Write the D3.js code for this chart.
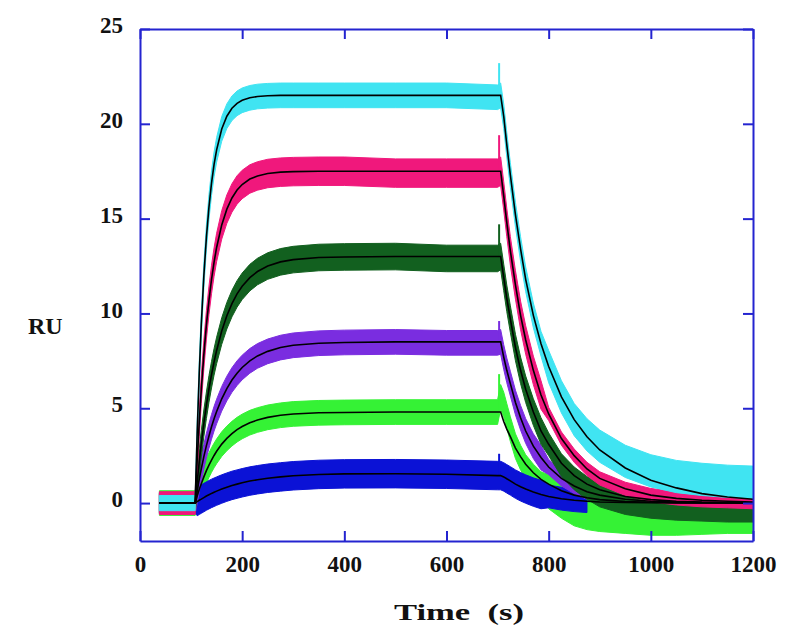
<!DOCTYPE html>
<html>
<head>
<meta charset="utf-8">
<script src="https://cdn.jsdelivr.net/npm/d3@7"></script>
<style>
  body { margin: 0; background: #fff; }
  .tick text, .title {
    font-family: "Liberation Serif", "Times New Roman", serif;
    font-weight: bold;
    font-size: 23px;
    fill: #111;
  }
  .title { font-size: 24px; }
</style>
</head>
<body>
<div class="chart"></div>
<script>
// time grid (s) shared by every trace
let times = [38, 108, 112, 116, 120, 125, 130, 135, 140, 145, 150, 160, 170, 180, 190, 200, 215, 230, 250, 275, 300, 350, 400, 500, 600, 700,
  706, 712, 718, 725, 735, 745, 755, 770, 785, 800, 825, 850, 875, 900, 950, 1000, 1050, 1100, 1150, 1200];

// fitted curves (RU)
let cyanFit = [0, 0, 3.76, 6.86, 9.42, 12.0, 14.02, 15.61, 16.87, 17.86, 18.63, 19.73, 20.40, 20.82, 21.08, 21.24, 21.37, 21.44, 21.48, 21.5, 21.5, 21.5, 21.5, 21.5, 21.5, 21.5,
  21.5, 20.4, 18.9, 17.3, 15.2, 13.4, 11.8, 9.9, 8.4, 7.2, 5.6, 4.4, 3.5, 2.8, 1.85, 1.2, 0.8, 0.5, 0.32, 0.2];
let pinkFit = [0, 0, 2.29, 4.27, 6.0, 7.84, 9.40, 10.69, 11.79, 12.71, 13.48, 14.67, 15.50, 16.09, 16.51, 16.80, 17.09, 17.25, 17.38, 17.45, 17.48, 17.5, 17.5, 17.5, 17.5, 17.5,
  17.5, 16.2, 14.8, 13.3, 11.5, 9.9, 8.6, 7.0, 5.7, 4.7, 3.4, 2.5, 1.8, 1.3, 0.75, 0.42, 0.25, 0.15, 0.1, 0.05];
let dgreenFit = [0, 0, 1.14, 2.18, 3.13, 4.21, 5.16, 6.02, 6.77, 7.45, 8.05, 9.07, 9.88, 10.52, 11.03, 11.43, 11.89, 12.21, 12.50, 12.72, 12.84, 12.95, 12.98, 13.0, 13.0, 13.0,
  13.0, 11.9, 10.8, 9.7, 8.2, 7.0, 6.0, 4.8, 3.8, 3.1, 2.1, 1.45, 1.0, 0.7, 0.35, 0.18, 0.1, 0.05, 0.03, 0.02];
let purpleFit = [0, 0, 0.65, 1.26, 1.81, 2.45, 3.03, 3.54, 4.02, 4.45, 4.83, 5.50, 6.04, 6.49, 6.85, 7.15, 7.50, 7.76, 8.00, 8.20, 8.32, 8.43, 8.47, 8.5, 8.5, 8.5,
  8.5, 7.7, 7.0, 6.3, 5.3, 4.5, 3.8, 3.0, 2.4, 1.9, 1.3, 0.9, 0.6, 0.42, 0.2, 0.1, 0.05, 0.03, 0.02, 0.01];
let greenFit = [0, 0, 0.37, 0.71, 1.02, 1.38, 1.71, 2.00, 2.27, 2.51, 2.73, 3.11, 3.41, 3.66, 3.87, 4.04, 4.24, 4.38, 4.52, 4.63, 4.70, 4.76, 4.78, 4.8, 4.8, 4.8,
  4.8, 4.3, 3.9, 3.5, 2.9, 2.45, 2.05, 1.6, 1.25, 1.0, 0.65, 0.42, 0.28, 0.18, 0.08, 0.04, 0.02, 0.01, 0, 0];
let blueFit = [0, 0, 0.08, 0.15, 0.21, 0.29, 0.37, 0.44, 0.51, 0.57, 0.63, 0.74, 0.84, 0.93, 1.00, 1.07, 1.16, 1.23, 1.31, 1.38, 1.44, 1.51, 1.54, 1.55, 1.52, 1.45,
  1.45, 1.38, 1.28, 1.17, 1.0, 0.86, 0.74, 0.58, 0.45, 0.35, 0.23, 0.15, 0.1, 0.06, 0.03, 0.02, 0.01, 0, 0, 0];

// centre of the noisy measured traces (RU)
let cyanData = [0, 0, 3.76, 6.86, 9.42, 12.0, 14.02, 15.61, 16.87, 17.86, 18.63, 19.73, 20.40, 20.82, 21.08, 21.24, 21.37, 21.44, 21.48, 21.5, 21.5, 21.5, 21.5, 21.5, 21.5, 21.4,
  21.5, 20.4, 18.9, 17.3, 15.2, 13.4, 11.8, 9.9, 8.4, 7.2, 5.6, 4.4, 3.6, 3.0, 2.2, 1.7, 1.4, 1.25, 1.15, 1.1];
let pinkData = [0, 0, 2.29, 4.27, 6.0, 7.84, 9.40, 10.69, 11.79, 12.71, 13.48, 14.67, 15.50, 16.09, 16.51, 16.80, 17.09, 17.25, 17.38, 17.45, 17.48, 17.5, 17.5, 17.4, 17.4, 17.4,
  17.5, 16.2, 14.8, 13.3, 11.5, 9.9, 8.6, 7.0, 5.7, 4.7, 3.4, 2.5, 1.8, 1.3, 0.75, 0.42, 0.25, 0.15, 0.1, 0.05];
let dgreenData = [0, 0, 1.14, 2.18, 3.13, 4.21, 5.16, 6.02, 6.77, 7.45, 8.05, 9.07, 9.88, 10.52, 11.03, 11.43, 11.89, 12.21, 12.50, 12.72, 12.84, 12.95, 12.98, 13.0, 12.9, 12.9,
  13.0, 11.9, 10.8, 9.7, 8.2, 7.0, 6.0, 4.8, 3.8, 3.1, 2.0, 1.3, 0.8, 0.4, 0.0, -0.2, -0.3, -0.35, -0.4, -0.4];
let purpleData = [0, 0, 0.65, 1.26, 1.81, 2.45, 3.03, 3.54, 4.02, 4.45, 4.83, 5.50, 6.04, 6.49, 6.85, 7.15, 7.50, 7.76, 8.00, 8.20, 8.32, 8.43, 8.47, 8.5, 8.45, 8.45,
  8.5, 7.7, 7.0, 6.3, 5.3, 4.5, 3.8, 3.0, 2.4, 1.9, 1.3, 0.9, 0.6, 0.3, 0.0, -0.1, -0.15, -0.2, -0.2, -0.2];
let greenData = [0, 0, 0.37, 0.71, 1.02, 1.38, 1.71, 2.00, 2.27, 2.51, 2.73, 3.11, 3.41, 3.66, 3.87, 4.04, 4.24, 4.38, 4.52, 4.63, 4.70, 4.76, 4.78, 4.8, 4.8, 4.8,
  5.6, 5.2, 4.6, 3.9, 3.0, 2.4, 1.9, 1.4, 1.0, 0.6, 0.1, -0.3, -0.5, -0.6, -0.7, -0.8, -0.8, -0.75, -0.7, -0.7];
let blueData = [0, 0, 0.08, 0.15, 0.21, 0.29, 0.37, 0.44, 0.51, 0.57, 0.63, 0.74, 0.84, 0.93, 1.00, 1.07, 1.16, 1.23, 1.31, 1.38, 1.44, 1.51, 1.54, 1.55, 1.52, 1.45,
  1.45, 1.38, 1.28, 1.17, 1.0, 0.86, 0.74, 0.58, 0.45, 0.35, 0.23, 0.15, 0.1];

// injection-end spike tops (RU), at t = 703 s
let spikeTops = [23.2, 19.4, 14.7, 9.6, 6.8, 2.6];
// noise half-widths: baseline, association, tail (RU)
let baseNoise = [0.4, 0.6, 0.55, 0.55, 0.65, 0.5];
let mainNoise = [0.65, 0.75, 0.7, 0.65, 0.65, 0.75];
let tailNoise = [0.85, 0.35, 0.6, 0.4, 0.9, 0.6];

let xTicks = [0, 200, 400, 600, 800, 1000, 1200];
let yTicks = [0, 5, 10, 15, 20, 25];

let svgWidth = 800;
let svgHeight = 641;
let margin = { top: 29, right: 47, bottom: 100, left: 140 };
let width = svgWidth - margin.left - margin.right;
let height = svgHeight - margin.top - margin.bottom;

let svg = d3.select(".chart")
  .append("svg")
  .attr("width", svgWidth)
  .attr("height", svgHeight);

let chartGroup = svg.append("g")
  .attr("transform", `translate(${margin.left}, ${margin.top})`);

let x = d3.scaleLinear().domain([0, 1200]).range([0, width]);
let y = d3.scaleLinear().domain([-2, 25]).range([height, 0]);

chartGroup.append("clipPath")
  .attr("id", "plotClip")
  .append("rect")
  .attr("width", width)
  .attr("height", height);

// traces, back to front
let traces = [
  { color: "#35f235", data: greenData, fit: greenFit, k: 4 },
  { color: "#0b12d6", data: blueData, fit: blueFit, k: 5 },
  { color: "#7a2de0", data: purpleData, fit: purpleFit, k: 3 },
  { color: "#12601f", data: dgreenData, fit: dgreenFit, k: 2 },
  { color: "#f0187c", data: pinkData, fit: pinkFit, k: 1 },
  { color: "#40e4f2", data: cyanData, fit: cyanFit, k: 0 }
];

let plot = chartGroup.append("g").attr("clip-path", "url(#plotClip)");

traces.forEach(function(tr) {
  let spread = i => times[i] <= 108 ? baseNoise[tr.k] : (times[i] >= 800 ? tailNoise[tr.k] : mainNoise[tr.k]);
  let idx = d3.range(tr.data.length);
  let band = d3.area()
    .x(i => x(times[i]))
    .y0(i => y(tr.data[i] - spread(i)))
    .y1(i => y(tr.data[i] + spread(i)));
  plot.append("path")
    .attr("d", band(idx))
    .attr("fill", tr.color)
    .attr("stroke", tr.color)
    .attr("stroke-width", 1);
  // spike at end of injection
  plot.append("line")
    .attr("x1", x(703)).attr("x2", x(703))
    .attr("y1", y(tr.data[25]))
    .attr("y2", y(spikeTops[tr.k]))
    .attr("stroke", tr.color)
    .attr("stroke-width", 2);
});

// fitted curves on top
let fitLine = d3.line()
  .x((d, i) => x(times[i]))
  .y(d => y(d));
traces.forEach(function(tr) {
  plot.append("path")
    .attr("d", fitLine(tr.fit))
    .attr("fill", "none")
    .attr("stroke", "#000")
    .attr("stroke-width", 1.6);
});

// axes: ticks point inward on all four sides
let axisColor = "#2424d0";
let leftAxis = d3.axisLeft(y).tickValues(yTicks).tickSizeInner(-10).tickSizeOuter(0).tickPadding(17).tickFormat(d3.format("d"));
let rightAxis = d3.axisRight(y).tickValues(yTicks).tickSizeInner(-10).tickSizeOuter(0).tickFormat("");
let bottomAxis = d3.axisBottom(x).tickValues(xTicks).tickSizeInner(-10).tickSizeOuter(0).tickPadding(15).tickFormat(d3.format("d"));
let topAxis = d3.axisTop(x).tickValues(xTicks).tickSizeInner(-10).tickSizeOuter(0).tickFormat("");

let gl = chartGroup.append("g").call(leftAxis);
let gr = chartGroup.append("g").attr("transform", `translate(${width}, 0)`).call(rightAxis);
let gb = chartGroup.append("g").attr("transform", `translate(0, ${height})`).call(bottomAxis);
let gt = chartGroup.append("g").call(topAxis);

[gl, gr, gb, gt].forEach(function(g) {
  g.select(".domain").attr("stroke", axisColor).attr("stroke-width", 2);
  g.selectAll(".tick line").attr("stroke", axisColor).attr("stroke-width", 2);
  g.attr("font-family", null).attr("font-size", null);
});
gl.selectAll(".tick text").attr("dy", "0.16em");

// axis titles
svg.append("text")
  .attr("class", "title")
  .attr("x", 28)
  .attr("y", 334)
  .text("RU");

svg.append("text")
  .attr("class", "title")
  .attr("x", 394)
  .attr("y", 620)
  .attr("textLength", 130)
  .attr("lengthAdjust", "spacingAndGlyphs")
  .style("white-space", "pre")
  .text("Time  (s)");
</script>
</body>
</html>
